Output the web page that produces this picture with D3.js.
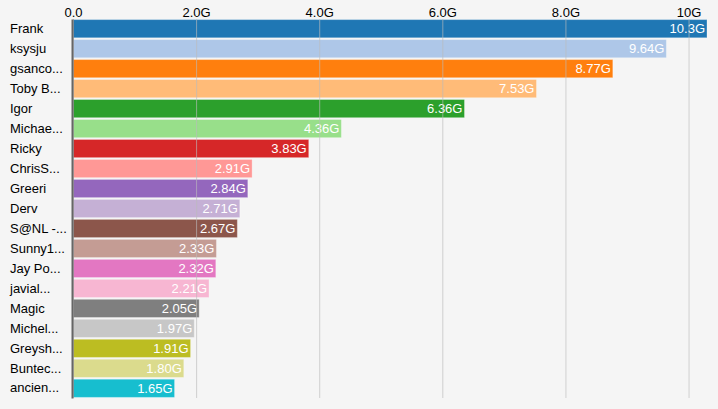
<!DOCTYPE html>
<html>
<head>
<meta charset="utf-8">
<script src="https://cdn.jsdelivr.net/npm/d3@7"></script>
<style>
body { margin: 0; background: #f5f5f5; }
svg { display: block; font-family: "Liberation Sans", Arial, Helvetica, sans-serif; }
</style>
</head>
<body>
<div id="chart"></div>
<script>
var names = ["Frank", "ksysju", "gsanco...", "Toby B...", "Igor", "Michae...", "Ricky", "ChrisS...",
  "Greeri", "Derv", "S@NL -...", "Sunny1...", "Jay Po...", "javial...", "Magic", "Michel...",
  "Greysh...", "Buntec...", "ancien..."];
var values = [10.3e9, 9.64e9, 8.77e9, 7.53e9, 6.36e9, 4.36e9, 3.83e9, 2.91e9, 2.84e9, 2.71e9,
  2.67e9, 2.33e9, 2.32e9, 2.21e9, 2.05e9, 1.97e9, 1.91e9, 1.80e9, 1.65e9];
var tickValues = [0, 2e9, 4e9, 6e9, 8e9, 10e9];
var colors = ["#1f77b4", "#aec7e8", "#ff7f0e", "#ffbb78", "#2ca02c", "#98df8a", "#d62728", "#ff9896",
  "#9467bd", "#c5b0d5", "#8c564b", "#c49c94", "#e377c2", "#f7b6d2", "#7f7f7f", "#c7c7c7",
  "#bcbd22", "#dbdb8d", "#17becf"];

var data = names.map(function(n, i) { return {name: n, value: values[i]}; });

var width = 718, height = 409;
var margin = {top: 19, right: 11, bottom: 11, left: 73};

var svg = d3.select("#chart").append("svg")
  .attr("width", width)
  .attr("height", height);

var x = d3.scaleLinear()
  .domain([0, d3.max(values)])
  .range([margin.left, width - margin.right]);

var y = d3.scaleBand()
  .domain(names)
  .range([margin.top, height - margin.bottom])
  .paddingInner(0.09)
  .paddingOuter(0.03);

// bars
svg.append("g")
  .selectAll("rect")
  .data(data)
  .enter().append("rect")
  .attr("x", x(0))
  .attr("y", d => y(d.name))
  .attr("width", d => x(d.value) - x(0))
  .attr("height", y.bandwidth())
  .attr("fill", (d, i) => colors[i])
  .attr("stroke", "#fff")
  .attr("stroke-opacity", 0.3);

// value labels
svg.append("g")
  .selectAll("text")
  .data(data)
  .enter().append("text")
  .attr("x", d => x(d.value) - 2)
  .attr("y", d => y(d.name) + y.bandwidth() / 2)
  .attr("dy", "0.36em")
  .attr("text-anchor", "end")
  .attr("fill", "#fff")
  .style("font-size", "13px")
  .text(d => d3.format(".3s")(d.value));

// top axis with gridlines over the bars
var xAxis = svg.append("g")
  .attr("transform", `translate(0,${margin.top})`)
  .call(d3.axisTop(x).tickValues(tickValues).tickFormat(d3.format(".2s"))
    .tickSize(-(height - margin.bottom - margin.top)).tickPadding(2.5));
xAxis.select(".domain").remove();
xAxis.selectAll(".tick line")
  .attr("stroke", "#bbb")
  .attr("stroke-opacity", 0.65);
xAxis.selectAll(".tick text")
  .attr("fill", "#000")
  .style("font-size", "13px");

// left axis with names
var yAxis = svg.append("g")
  .attr("transform", `translate(${margin.left - 1},0)`)
  .call(d3.axisLeft(y).tickSize(0).tickPadding(0));
yAxis.select(".domain")
  .attr("stroke", "#666")
  .attr("stroke-width", 2);
yAxis.selectAll(".tick text")
  .attr("x", -62)
  .attr("text-anchor", "start")
  .attr("fill", "#000")
  .style("font-size", "13px");
</script>
</body>
</html>
